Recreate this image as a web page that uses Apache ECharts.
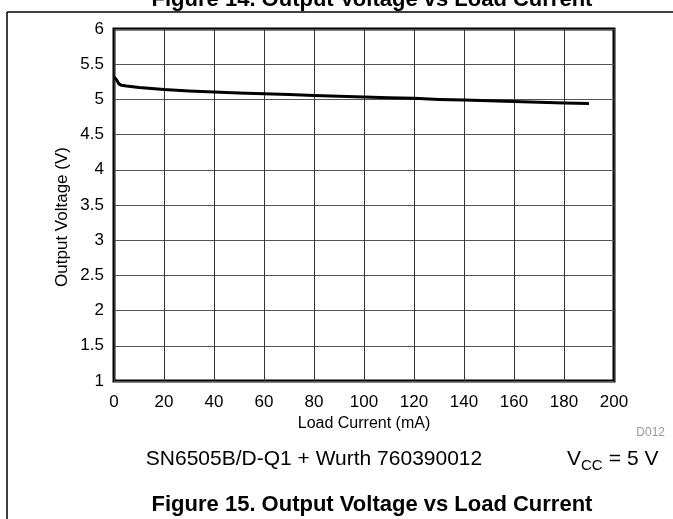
<!DOCTYPE html>
<html>
<head>
<meta charset="utf-8">
<script src="https://cdn.jsdelivr.net/npm/echarts@6/dist/echarts.min.js"></script>
<style>
html,body{margin:0;padding:0;background:#fff;}
#chart{width:673px;height:519px;}
</style>
</head>
<body>
<div id="chart"></div>
<script>
// Data
var loadCurrent = [0, 1, 2, 3, 5, 10, 20, 30, 40, 50, 60, 70, 80, 90, 100, 110, 120, 130, 140, 150, 160, 170, 180, 190];
var outputVoltage = [5.32, 5.28, 5.22, 5.20, 5.19, 5.17, 5.14, 5.12, 5.105, 5.09, 5.08, 5.07, 5.055, 5.045, 5.035, 5.025, 5.015, 5.0, 4.99, 4.98, 4.97, 4.96, 4.95, 4.94];
var xTickLabels = ['0','20','40','60','80','100','120','140','160','180','200'];
var yTickLabels = ['1','1.5','2','2.5','3','3.5','4','4.5','5','5.5','6'];

var seriesData = loadCurrent.map(function (x, i) { return [x, outputVoltage[i]]; });

var chart = echarts.init(document.getElementById('chart'), null, {renderer: 'canvas'});
var FONT = 'Liberation Sans, Arial, sans-serif';
chart.setOption({
  animation: false,
  backgroundColor: '#fff',
  grid: {
    left: 114, top: 29, width: 500, height: 352,
    show: true, borderColor: '#000', borderWidth: 3, backgroundColor: 'transparent'
  },
  xAxis: {
    type: 'value', min: 0, max: 200, interval: 20,
    name: 'Load Current (mA)', nameLocation: 'middle', nameGap: 33,
    nameTextStyle: {fontFamily: FONT, fontSize: 16, color: '#000'},
    axisLine: {show: false}, axisTick: {show: false},
    axisLabel: {fontFamily: FONT, fontSize: 17, color: '#000', margin: 13,
      formatter: function (v) { return xTickLabels[Math.round(v / 20)]; }},
    splitLine: {show: true, lineStyle: {color: '#333', width: 1}}
  },
  yAxis: {
    type: 'value', min: 1, max: 6, interval: 0.5,
    axisLine: {show: false}, axisTick: {show: false},
    axisLabel: {fontFamily: FONT, fontSize: 17, color: '#000', margin: 10,
      formatter: function (v) { return yTickLabels[Math.round((v - 1) / 0.5)]; }},
    splitLine: {show: true, lineStyle: {color: '#555', width: 1}}
  },
  series: [{
    type: 'line', data: seriesData, showSymbol: false, smooth: false,
    lineStyle: {color: '#000', width: 3, join: 'round'}, z: 5
  }],
  graphic: [
    {type: 'line', shape: {x1: 7, y1: 12, x2: 673, y2: 12}, style: {stroke: '#000', lineWidth: 1.5}},
    {type: 'line', shape: {x1: 7, y1: 12, x2: 7, y2: 519}, style: {stroke: '#000', lineWidth: 1.5}},
    {type: 'text', x: 372, y: 11, style: {text: 'Figure 14. Output Voltage vs Load Current', font: 'bold 22px ' + FONT, fill: '#000', textAlign: 'center', textVerticalAlign: 'bottom'}},
    {type: 'text', x: 62, y: 217, rotation: Math.PI / 2, style: {text: 'Output Voltage (V)', font: '17px ' + FONT, fill: '#000', textAlign: 'center', textVerticalAlign: 'middle'}},
    {type: 'text', x: 665, y: 433, style: {text: 'D012', font: '12px ' + FONT, fill: '#999', textAlign: 'right', textVerticalAlign: 'middle'}},
    {type: 'text', x: 314, y: 459, style: {text: 'SN6505B/D-Q1 + Wurth 760390012', font: '21px ' + FONT, fill: '#000', textAlign: 'center', textVerticalAlign: 'middle'}},
    {type: 'text', x: 567, y: 459, style: {text: 'V', font: '21px ' + FONT, fill: '#000', textAlign: 'left', textVerticalAlign: 'middle'}},
    {type: 'text', x: 581, y: 466, style: {text: 'CC', font: '15px ' + FONT, fill: '#000', textAlign: 'left', textVerticalAlign: 'middle'}},
    {type: 'text', x: 603, y: 459, style: {text: ' = 5 V', font: '21px ' + FONT, fill: '#000', textAlign: 'left', textVerticalAlign: 'middle'}},
    {type: 'text', x: 372, y: 505, style: {text: 'Figure 15. Output Voltage vs Load Current', font: 'bold 22px ' + FONT, fill: '#000', textAlign: 'center', textVerticalAlign: 'middle'}}
  ]
});
</script>
</body>
</html>
